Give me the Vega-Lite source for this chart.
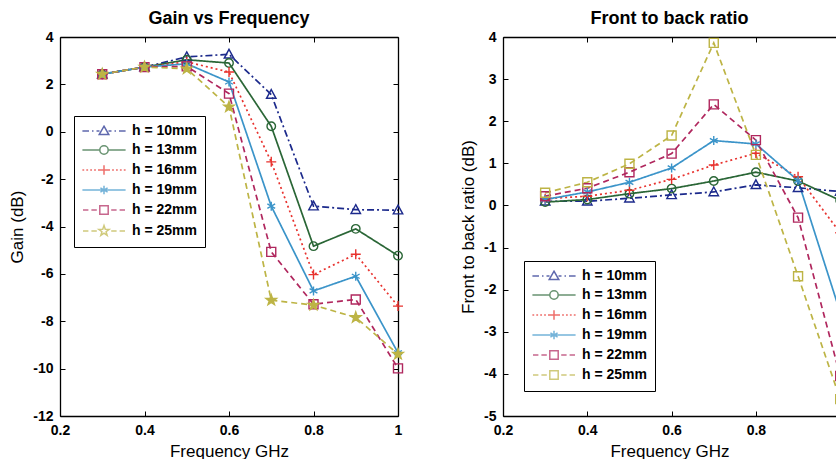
{
  "$schema": "https://vega.github.io/schema/vega-lite/v6.json",
  "padding": {"left": 8, "top": 10, "right": 0, "bottom": 0},
  "background": "white",
  "datasets": {
    "gain": [
      {"freq": 0.3, "h": "h = 10mm", "value": 2.43}, {"freq": 0.4, "h": "h = 10mm", "value": 2.73}, {"freq": 0.5, "h": "h = 10mm", "value": 3.16}, {"freq": 0.6, "h": "h = 10mm", "value": 3.27}, {"freq": 0.7, "h": "h = 10mm", "value": 1.57}, {"freq": 0.8, "h": "h = 10mm", "value": -3.14}, {"freq": 0.9, "h": "h = 10mm", "value": -3.29}, {"freq": 1.0, "h": "h = 10mm", "value": -3.31},
      {"freq": 0.3, "h": "h = 13mm", "value": 2.43}, {"freq": 0.4, "h": "h = 13mm", "value": 2.73}, {"freq": 0.5, "h": "h = 13mm", "value": 3.04}, {"freq": 0.6, "h": "h = 13mm", "value": 2.9}, {"freq": 0.7, "h": "h = 13mm", "value": 0.23}, {"freq": 0.8, "h": "h = 13mm", "value": -4.83}, {"freq": 0.9, "h": "h = 13mm", "value": -4.1}, {"freq": 1.0, "h": "h = 13mm", "value": -5.23},
      {"freq": 0.3, "h": "h = 16mm", "value": 2.43}, {"freq": 0.4, "h": "h = 16mm", "value": 2.73}, {"freq": 0.5, "h": "h = 16mm", "value": 2.95}, {"freq": 0.6, "h": "h = 16mm", "value": 2.52}, {"freq": 0.7, "h": "h = 16mm", "value": -1.27}, {"freq": 0.8, "h": "h = 16mm", "value": -6.03}, {"freq": 0.9, "h": "h = 16mm", "value": -5.17}, {"freq": 1.0, "h": "h = 16mm", "value": -7.36},
      {"freq": 0.3, "h": "h = 19mm", "value": 2.43}, {"freq": 0.4, "h": "h = 19mm", "value": 2.73}, {"freq": 0.5, "h": "h = 19mm", "value": 2.87}, {"freq": 0.6, "h": "h = 19mm", "value": 2.1}, {"freq": 0.7, "h": "h = 19mm", "value": -3.14}, {"freq": 0.8, "h": "h = 19mm", "value": -6.72}, {"freq": 0.9, "h": "h = 19mm", "value": -6.1}, {"freq": 1.0, "h": "h = 19mm", "value": -9.33},
      {"freq": 0.3, "h": "h = 22mm", "value": 2.43}, {"freq": 0.4, "h": "h = 22mm", "value": 2.73}, {"freq": 0.5, "h": "h = 22mm", "value": 2.76}, {"freq": 0.6, "h": "h = 22mm", "value": 1.61}, {"freq": 0.7, "h": "h = 22mm", "value": -5.07}, {"freq": 0.8, "h": "h = 22mm", "value": -7.28}, {"freq": 0.9, "h": "h = 22mm", "value": -7.08}, {"freq": 1.0, "h": "h = 22mm", "value": -9.99},
      {"freq": 0.3, "h": "h = 25mm", "value": 2.43}, {"freq": 0.4, "h": "h = 25mm", "value": 2.73}, {"freq": 0.5, "h": "h = 25mm", "value": 2.66}, {"freq": 0.6, "h": "h = 25mm", "value": 1.05}, {"freq": 0.7, "h": "h = 25mm", "value": -7.11}, {"freq": 0.8, "h": "h = 25mm", "value": -7.32}, {"freq": 0.9, "h": "h = 25mm", "value": -7.84}, {"freq": 1.0, "h": "h = 25mm", "value": -9.39}
    ],
    "ftb": [
      {"freq": 0.3, "h": "h = 10mm", "value": 0.1}, {"freq": 0.4, "h": "h = 10mm", "value": 0.1}, {"freq": 0.5, "h": "h = 10mm", "value": 0.17}, {"freq": 0.6, "h": "h = 10mm", "value": 0.25}, {"freq": 0.7, "h": "h = 10mm", "value": 0.32}, {"freq": 0.8, "h": "h = 10mm", "value": 0.49}, {"freq": 0.9, "h": "h = 10mm", "value": 0.42}, {"freq": 1.0, "h": "h = 10mm", "value": 0.33},
      {"freq": 0.3, "h": "h = 13mm", "value": 0.08}, {"freq": 0.4, "h": "h = 13mm", "value": 0.14}, {"freq": 0.5, "h": "h = 13mm", "value": 0.28}, {"freq": 0.6, "h": "h = 13mm", "value": 0.4}, {"freq": 0.7, "h": "h = 13mm", "value": 0.58}, {"freq": 0.8, "h": "h = 13mm", "value": 0.79}, {"freq": 0.9, "h": "h = 13mm", "value": 0.58}, {"freq": 1.0, "h": "h = 13mm", "value": 0.12},
      {"freq": 0.3, "h": "h = 16mm", "value": 0.16}, {"freq": 0.4, "h": "h = 16mm", "value": 0.22}, {"freq": 0.5, "h": "h = 16mm", "value": 0.36}, {"freq": 0.6, "h": "h = 16mm", "value": 0.62}, {"freq": 0.7, "h": "h = 16mm", "value": 0.96}, {"freq": 0.8, "h": "h = 16mm", "value": 1.24}, {"freq": 0.9, "h": "h = 16mm", "value": 0.68}, {"freq": 1.0, "h": "h = 16mm", "value": -0.65},
      {"freq": 0.3, "h": "h = 19mm", "value": 0.14}, {"freq": 0.4, "h": "h = 19mm", "value": 0.32}, {"freq": 0.5, "h": "h = 19mm", "value": 0.55}, {"freq": 0.6, "h": "h = 19mm", "value": 0.89}, {"freq": 0.7, "h": "h = 19mm", "value": 1.54}, {"freq": 0.8, "h": "h = 19mm", "value": 1.46}, {"freq": 0.9, "h": "h = 19mm", "value": 0.59}, {"freq": 1.0, "h": "h = 19mm", "value": -2.54},
      {"freq": 0.3, "h": "h = 22mm", "value": 0.22}, {"freq": 0.4, "h": "h = 22mm", "value": 0.41}, {"freq": 0.5, "h": "h = 22mm", "value": 0.79}, {"freq": 0.6, "h": "h = 22mm", "value": 1.23}, {"freq": 0.7, "h": "h = 22mm", "value": 2.4}, {"freq": 0.8, "h": "h = 22mm", "value": 1.55}, {"freq": 0.9, "h": "h = 22mm", "value": -0.29}, {"freq": 1.0, "h": "h = 22mm", "value": -4.05},
      {"freq": 0.3, "h": "h = 25mm", "value": 0.3}, {"freq": 0.4, "h": "h = 25mm", "value": 0.55}, {"freq": 0.5, "h": "h = 25mm", "value": 0.99}, {"freq": 0.6, "h": "h = 25mm", "value": 1.66}, {"freq": 0.7, "h": "h = 25mm", "value": 3.86}, {"freq": 0.8, "h": "h = 25mm", "value": 1.2}, {"freq": 0.9, "h": "h = 25mm", "value": -1.68}, {"freq": 1.0, "h": "h = 25mm", "value": -4.6}
    ]
  },
  "hconcat": [
    {
      "width": 338,
      "height": 379,
      "title": {"text": "Gain vs Frequency", "anchor": "middle"},
      "data": {"name": "gain"},
      "resolve": {"scale": {"shape": "independent", "color": "independent", "fill": "independent"}, "axis": {"x": "independent", "y": "independent"}},
      "layer": [
        {
          "mark": {"type": "line", "strokeWidth": 1.7},
          "encoding": {
            "x": {"field": "freq", "type": "quantitative", "scale": {"domain": [0.2, 1], "nice": false, "zero": false}, "axis": {"values": [0.2, 0.4, 0.6, 0.8, 1], "format": ".1~f", "title": "Frequency GHz"}},
            "y": {"field": "value", "type": "quantitative", "scale": {"domain": [-12, 4], "nice": false, "zero": false}, "axis": {"values": [-12, -10, -8, -6, -4, -2, 0, 2, 4], "labelExpr": "datum.value < 0 ? '-' + abs(datum.value) : '' + datum.value", "title": "Gain (dB)"}},
            "stroke": {"field": "h", "type": "nominal", "scale": {"domain": ["h = 10mm", "h = 13mm", "h = 16mm", "h = 19mm", "h = 22mm", "h = 25mm"], "range": ["#1c2a8c", "#2a6636", "#e8322e", "#3b94c9", "#b0275e", "#bdb445"]}, "legend": null},
            "strokeDash": {"field": "h", "type": "nominal", "scale": {"domain": ["h = 10mm", "h = 13mm", "h = 16mm", "h = 19mm", "h = 22mm", "h = 25mm"], "range": [[7, 3, 2, 3], [1, 0], [2, 3], [1, 0], [6, 4], [6, 4]]}, "legend": null}
          }
        },
        {
          "mark": {"type": "point", "filled": false, "size": 100, "strokeWidth": 1.4, "opacity": 1},
          "encoding": {
            "x": {"field": "freq", "type": "quantitative", "axis": {"orient": "top", "values": [0.2, 0.4, 0.6, 0.8, 1], "labels": false, "title": null}},
            "y": {"field": "value", "type": "quantitative", "axis": {"orient": "right", "values": [-12, -10, -8, -6, -4, -2, 0, 2, 4], "labels": false, "title": null}},
            "stroke": {"field": "h", "type": "nominal", "legend": null},
            "shape": {"field": "h", "type": "nominal", "scale": {"domain": ["h = 10mm", "h = 13mm", "h = 16mm", "h = 19mm", "h = 22mm", "h = 25mm"], "range": ["M0,-1L0.95,0.75H-0.95Z", "M0.85,0A0.85,0.85 0 1,1 -0.85,0A0.85,0.85 0 1,1 0.85,0Z", "M-1,0H1M0,-1V1", "M0,-0.9V0.9M-0.78,-0.45L0.78,0.45M-0.78,0.45L0.78,-0.45", "M-0.9,-0.9H0.9V0.9H-0.9Z", "M0,-1.1L0.259,-0.356L1.046,-0.34L0.418,0.136L0.647,0.89L0,0.44L-0.647,0.89L-0.418,0.136L-1.046,-0.34L-0.259,-0.356Z"]}, "legend": null},
            "fill": {"field": "h", "type": "nominal", "scale": {"domain": ["h = 10mm", "h = 13mm", "h = 16mm", "h = 19mm", "h = 22mm", "h = 25mm"], "range": ["transparent", "transparent", "transparent", "transparent", "transparent", "#bdb445"]}, "legend": null}
          }
        },
        {
          "transform": [{"filter": "false"}],
          "mark": {"type": "point", "filled": false, "strokeWidth": 1.5},
          "encoding": {
            "color": {"field": "h", "type": "nominal", "scale": {"domain": ["h = 10mm", "h = 13mm", "h = 16mm", "h = 19mm", "h = 22mm", "h = 25mm"], "range": ["#1c2a8c", "#2a6636", "#e8322e", "#3b94c9", "#b0275e", "#bdb445"]},
              "legend": {"orient": "none", "legendX": 14, "legendY": 79, "title": null, "strokeColor": "black", "fillColor": "white", "padding": 8, "rowPadding": 4, "cornerRadius": 0, "symbolSize": 144, "symbolStrokeWidth": 1.5, "symbolOffset": 15, "labelOffset": 21, "labelFont": "Liberation Sans", "labelFontSize": 14, "labelFontWeight": "bold", "labelColor": "black"}},
            "shape": {"field": "h", "type": "nominal", "scale": {"domain": ["h = 10mm", "h = 13mm", "h = 16mm", "h = 19mm", "h = 22mm", "h = 25mm"], "range": ["M-3.6,0H-2.5M-2.0,0H-1.75M-1.25,0H-0.75M0.75,0H1.25M1.75,0H2.0M2.5,0H3.6M0,-0.8L0.8,0.6H-0.8Z", "M-3.6,0H-0.7M0.7,0H3.6M0.7,0A0.7,0.7 0 1,1 -0.7,0A0.7,0.7 0 1,1 0.7,0Z", "M-3.6,0H-3.3M-2.95,0H-2.65M-2.3,0H-2.0M-1.65,0H-1.35M-1.0,0H-0.7M0.7,0H1.0M1.35,0H1.65M2.0,0H2.3M2.65,0H2.95M3.3,0H3.6M-0.8,0H0.8M0,-0.8V0.8", "M-3.6,0H3.6M0,-0.7V0.7M-0.6,-0.35L0.6,0.35M-0.6,0.35L0.6,-0.35", "M-3.5,0H-2.6M-2.1,0H-1.2M1.2,0H2.1M2.6,0H3.5M-0.7,-0.7H0.7V0.7H-0.7Z", "M-3.5,0H-2.6M-2.1,0H-1.2M1.2,0H2.1M2.6,0H3.5M0,-0.9L0.212,-0.291L0.856,-0.278L0.342,0.111L0.529,0.728L0,0.36L-0.529,0.728L-0.342,0.111L-0.856,-0.278L-0.212,-0.291Z"]},
              "legend": {"orient": "none", "legendX": 14, "legendY": 79, "title": null, "strokeColor": "black", "fillColor": "white", "padding": 8, "rowPadding": 4, "cornerRadius": 0, "symbolSize": 144, "symbolStrokeWidth": 1.5, "symbolOffset": 15, "labelOffset": 21, "labelFont": "Liberation Sans", "labelFontSize": 14, "labelFontWeight": "bold", "labelColor": "black"}}
          }
        }
      ]
    },
    {
      "width": 333,
      "height": 379,
      "title": {"text": "Front to back ratio", "anchor": "middle"},
      "data": {"name": "ftb"},
      "resolve": {"scale": {"shape": "independent", "color": "independent"}, "axis": {"x": "independent", "y": "independent"}},
      "layer": [
        {
          "mark": {"type": "line", "strokeWidth": 1.7, "clip": true},
          "encoding": {
            "x": {"field": "freq", "type": "quantitative", "scale": {"domain": [0.2, 0.99], "nice": false, "zero": false}, "axis": {"values": [0.2, 0.4, 0.6, 0.8], "format": ".1~f", "title": "Frequency GHz"}},
            "y": {"field": "value", "type": "quantitative", "scale": {"domain": [-5, 4], "nice": false, "zero": false}, "axis": {"values": [-5, -4, -3, -2, -1, 0, 1, 2, 3, 4], "labelExpr": "datum.value < 0 ? '-' + abs(datum.value) : '' + datum.value", "title": "Front to back ratio (dB)"}},
            "stroke": {"field": "h", "type": "nominal", "scale": {"domain": ["h = 10mm", "h = 13mm", "h = 16mm", "h = 19mm", "h = 22mm", "h = 25mm"], "range": ["#1c2a8c", "#2a6636", "#e8322e", "#3b94c9", "#b0275e", "#bdb445"]}, "legend": null},
            "strokeDash": {"field": "h", "type": "nominal", "scale": {"domain": ["h = 10mm", "h = 13mm", "h = 16mm", "h = 19mm", "h = 22mm", "h = 25mm"], "range": [[7, 3, 2, 3], [1, 0], [2, 3], [1, 0], [6, 4], [6, 4]]}, "legend": null}
          }
        },
        {
          "mark": {"type": "point", "filled": false, "size": 100, "strokeWidth": 1.4, "opacity": 1, "clip": true},
          "encoding": {
            "x": {"field": "freq", "type": "quantitative", "axis": {"orient": "top", "values": [0.2, 0.4, 0.6, 0.8], "labels": false, "title": null}},
            "y": {"field": "value", "type": "quantitative", "axis": null},
            "stroke": {"field": "h", "type": "nominal", "legend": null},
            "shape": {"field": "h", "type": "nominal", "scale": {"domain": ["h = 10mm", "h = 13mm", "h = 16mm", "h = 19mm", "h = 22mm", "h = 25mm"], "range": ["M0,-1L0.95,0.75H-0.95Z", "M0.85,0A0.85,0.85 0 1,1 -0.85,0A0.85,0.85 0 1,1 0.85,0Z", "M-1,0H1M0,-1V1", "M0,-0.9V0.9M-0.78,-0.45L0.78,0.45M-0.78,0.45L0.78,-0.45", "M-0.9,-0.9H0.9V0.9H-0.9Z", "M-0.9,-0.9H0.9V0.9H-0.9Z"]}, "legend": null}
          }
        },
        {
          "transform": [{"filter": "false"}],
          "mark": {"type": "point", "filled": false, "strokeWidth": 1.5},
          "encoding": {
            "color": {"field": "h", "type": "nominal", "scale": {"domain": ["h = 10mm", "h = 13mm", "h = 16mm", "h = 19mm", "h = 22mm", "h = 25mm"], "range": ["#1c2a8c", "#2a6636", "#e8322e", "#3b94c9", "#b0275e", "#bdb445"]},
              "legend": {"orient": "none", "legendX": 21, "legendY": 224, "title": null, "strokeColor": "black", "fillColor": "white", "padding": 8, "rowPadding": 4, "cornerRadius": 0, "symbolSize": 144, "symbolStrokeWidth": 1.5, "symbolOffset": 15, "labelOffset": 21, "labelFont": "Liberation Sans", "labelFontSize": 14, "labelFontWeight": "bold", "labelColor": "black"}},
            "shape": {"field": "h", "type": "nominal", "scale": {"domain": ["h = 10mm", "h = 13mm", "h = 16mm", "h = 19mm", "h = 22mm", "h = 25mm"], "range": ["M-3.6,0H-2.5M-2.0,0H-1.75M-1.25,0H-0.75M0.75,0H1.25M1.75,0H2.0M2.5,0H3.6M0,-0.8L0.8,0.6H-0.8Z", "M-3.6,0H-0.7M0.7,0H3.6M0.7,0A0.7,0.7 0 1,1 -0.7,0A0.7,0.7 0 1,1 0.7,0Z", "M-3.6,0H-3.3M-2.95,0H-2.65M-2.3,0H-2.0M-1.65,0H-1.35M-1.0,0H-0.7M0.7,0H1.0M1.35,0H1.65M2.0,0H2.3M2.65,0H2.95M3.3,0H3.6M-0.8,0H0.8M0,-0.8V0.8", "M-3.6,0H3.6M0,-0.7V0.7M-0.6,-0.35L0.6,0.35M-0.6,0.35L0.6,-0.35", "M-3.5,0H-2.6M-2.1,0H-1.2M1.2,0H2.1M2.6,0H3.5M-0.7,-0.7H0.7V0.7H-0.7Z", "M-3.5,0H-2.6M-2.1,0H-1.2M1.2,0H2.1M2.6,0H3.5M-0.7,-0.7H0.7V0.7H-0.7Z"]},
              "legend": {"orient": "none", "legendX": 21, "legendY": 224, "title": null, "strokeColor": "black", "fillColor": "white", "padding": 8, "rowPadding": 4, "cornerRadius": 0, "symbolSize": 144, "symbolStrokeWidth": 1.5, "symbolOffset": 15, "labelOffset": 21, "labelFont": "Liberation Sans", "labelFontSize": 14, "labelFontWeight": "bold", "labelColor": "black"}}
          }
        }
      ]
    }
  ],
  "spacing": 105,
  "bounds": "flush",
  "config": {
    "font": "Liberation Sans",
    "view": {"stroke": null},
    "axis": {"domainColor": "black", "domainWidth": 1.3, "tickColor": "black", "tickSize": -5, "tickWidth": 1, "labelFont": "Liberation Sans", "labelFontWeight": "bold", "labelFontSize": 14, "labelColor": "black", "labelPadding": 12, "labelFlush": false, "labelOverlap": false, "titleFont": "Liberation Sans", "titleFontSize": 17, "titleFontWeight": "normal", "titleColor": "black", "titlePadding": 6, "grid": false},
    "title": {"font": "Liberation Sans", "fontSize": 18, "fontWeight": "bold", "color": "black", "offset": 2}
  }
}
